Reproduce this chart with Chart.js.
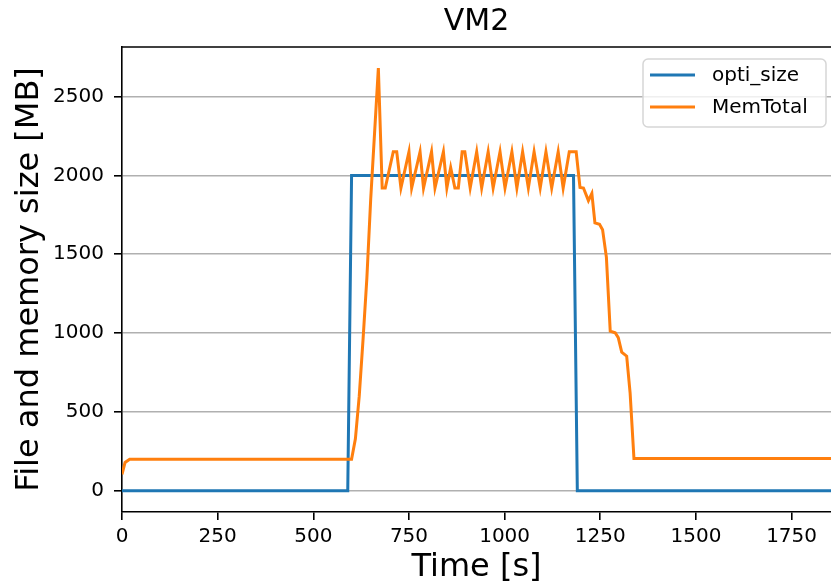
<!DOCTYPE html>
<html>
<head>
<meta charset="utf-8">
<title>VM2</title>
<script src="https://cdn.jsdelivr.net/npm/chart.js@4.4.1/dist/chart.umd.min.js"></script>
<style>
    html, body { margin: 0; padding: 0; background: #fff; }
    #wrap { width: 831px; height: 587px; }
</style>
</head>
<body>
<div id="wrap"><canvas id="vm2-chart"></canvas></div>
<script>
    // opti_size series (time [s], size [MB])
    var optiTime = [0, 590, 600, 1180, 1190, 1853];
    var optiSize = [0, 0, 2000, 2000, 0, 0];

    // MemTotal series (time [s], size [MB])
    var memTime = [0, 8, 20, 600, 610, 620, 630, 640, 650, 670,
        680, 688, 709, 718, 729, 750, 757, 779, 788, 809,
        818, 840, 849, 859, 870, 879, 889, 896, 910, 927,
        940, 957, 970, 988, 1001, 1019, 1032, 1047, 1062, 1077,
        1093, 1108, 1123, 1140, 1153, 1169, 1187, 1197, 1206, 1219,
        1228, 1236, 1248, 1256, 1266, 1276, 1289, 1297, 1306, 1319,
        1328, 1338, 1853];
    var memTotal = [105, 180, 200, 200, 330, 600, 960, 1350, 1850, 2680,
        1920, 1920, 2150, 2150, 1920, 2150, 1920, 2150, 1920, 2150,
        1920, 2150, 1920, 2050, 1920, 1920, 2150, 2150, 1920, 2150,
        1920, 2150, 1920, 2150, 1920, 2150, 1920, 2150, 1920, 2150,
        1920, 2150, 1920, 2150, 1920, 2150, 2150, 1924, 1920, 1840,
        1886, 1699, 1690, 1656, 1480, 1013, 1002, 971, 880, 854,
        620, 205, 205];

    // Tick labels
    var xTicks = [0, 250, 500, 750, 1000, 1250, 1500, 1750];
    var yTicks = [0, 500, 1000, 1500, 2000, 2500];

    function toPoints(xs, ys) {
        return xs.map(function (x, i) { return {x: x, y: ys[i]}; });
    }

    var FONT = "'DejaVu Sans', sans-serif";

    // Top spine + legend box inside the axes (matplotlib style)
    var framePlugin = {
        id: 'frame',
        afterDraw: function (chart) {
            var ctx = chart.ctx, a = chart.chartArea;
            ctx.save();
            ctx.strokeStyle = '#000';
            ctx.lineWidth = 1.6;
            ctx.beginPath();
            ctx.moveTo(a.left - 0.8, a.top);
            ctx.lineTo(a.right, a.top);
            ctx.stroke();

            // legend
            var bx = 643, by = 59, bw = 183, bh = 68;
            ctx.beginPath();
            ctx.roundRect(bx, by, bw, bh, 5);
            ctx.fillStyle = 'rgba(255,255,255,0.8)';
            ctx.fill();
            ctx.strokeStyle = '#d6d6d6';
            ctx.lineWidth = 1.5;
            ctx.stroke();
            ctx.font = '20px ' + FONT;
            ctx.textBaseline = 'middle';
            ctx.textAlign = 'left';
            chart.data.datasets.forEach(function (ds, i) {
                var yy = by + 16 + i * 32;
                ctx.strokeStyle = ds.borderColor;
                ctx.lineWidth = 3;
                ctx.beginPath();
                ctx.moveTo(bx + 7, yy);
                ctx.lineTo(bx + 52, yy);
                ctx.stroke();
                ctx.fillStyle = '#000';
                ctx.fillText(ds.label, bx + 69, yy + 1);
            });
            ctx.restore();
        }
    };

    function plain(v) { return String(v); }

    var ctx = document.getElementById('vm2-chart').getContext('2d');
    var vmChart = new Chart(ctx, {
        type: 'line',
        data: {
            datasets: [{
                label: 'opti_size',
                data: toPoints(optiTime, optiSize),
                borderColor: '#1f77b4',
                borderWidth: 3,
                pointRadius: 0,
                tension: 0,
                order: 1
            }, {
                label: 'MemTotal',
                data: toPoints(memTime, memTotal),
                borderColor: '#ff7f0e',
                borderWidth: 3,
                pointRadius: 0,
                tension: 0,
                order: 0
            }]
        },
        options: {
            responsive: true,
            maintainAspectRatio: false,
            animation: false,
            layout: {padding: 0},
            plugins: {
                legend: {display: false},
                tooltip: {enabled: false},
                title: {
                    display: true,
                    text: 'VM2',
                    fullSize: false,
                    color: '#000',
                    font: {family: FONT, size: 30, weight: 'normal'},
                    padding: {top: 4, bottom: 7}
                }
            },
            scales: {
                x: {
                    type: 'linear',
                    min: 0,
                    max: 1853,
                    afterBuildTicks: function (s) {
                        s.ticks = xTicks.map(function (v) { return {value: v}; });
                    },
                    afterFit: function (s) { s.height = 75; },
                    grid: {
                        drawOnChartArea: false,
                        tickColor: '#000',
                        tickLength: 8,
                        lineWidth: 1.6
                    },
                    border: {color: '#000', width: 1.6},
                    ticks: {
                        color: '#000',
                        padding: 5,
                        maxRotation: 0,
                        callback: plain,
                        font: {family: FONT, size: 20}
                    },
                    title: {
                        display: true,
                        text: 'Time [s]',
                        color: '#000',
                        font: {family: FONT, size: 32},
                        padding: {top: 0, bottom: 0}
                    }
                },
                y: {
                    type: 'linear',
                    min: -134,
                    max: 2814,
                    afterBuildTicks: function (s) {
                        s.ticks = yTicks.map(function (v) { return {value: v}; });
                    },
                    afterFit: function (s) { s.width = 122; },
                    grid: {
                        color: '#b0b0b0',
                        tickColor: '#000',
                        tickLength: 8,
                        lineWidth: 1.6
                    },
                    border: {color: '#000', width: 1.6},
                    ticks: {
                        color: '#000',
                        padding: 10,
                        callback: plain,
                        font: {family: FONT, size: 20}
                    },
                    title: {
                        display: true,
                        text: 'File and memory size [MB]',
                        color: '#000',
                        font: {family: FONT, size: 32},
                        padding: {top: 10, bottom: 0}
                    }
                }
            }
        },
        plugins: [framePlugin]
    });
</script>
</body>
</html>
